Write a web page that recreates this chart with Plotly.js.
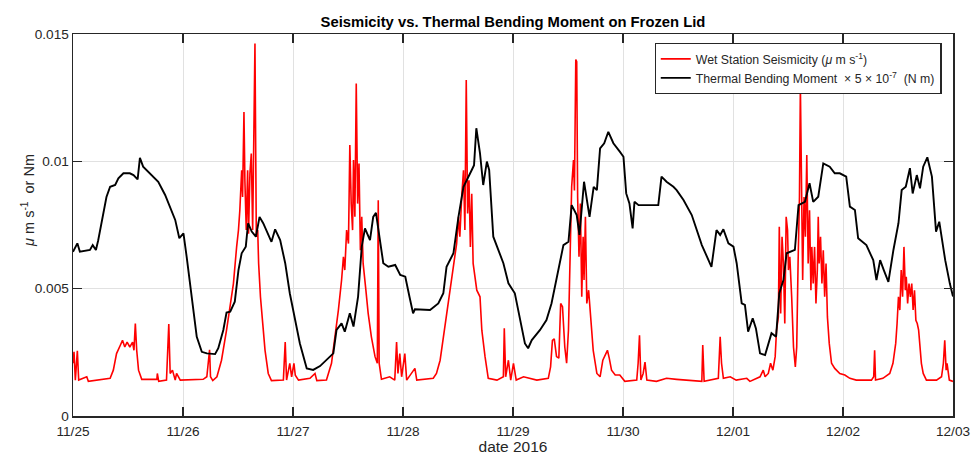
<!DOCTYPE html>
<html>
<head>
<meta charset="utf-8">
<script src="https://cdn.plot.ly/plotly-3.0.1.min.js"></script>
<style>html,body{margin:0;padding:0;background:#fff}#chart{width:971px;height:455px}</style>
</head>
<body>
<div id="chart"></div>
<script>
// hours after 2016-11-25 00:00 and values
const dayLabels = ['11/25','11/26','11/27','11/28','11/29','11/30','12/01','12/02','12/03'];

const momentHours = [0,0.95,1.5,3.7,4.3,5.0,5.5,6.3,7.3,8.1,9.2,9.9,11.0,12.4,13.2,14.1,14.6,15.3,16.8,18.6,20.1,21.2,22.3,23.2,24.1,24.8,25.9,27.0,28.1,29.2,31.0,31.7,32.8,33.5,34.3,35.3,36.1,36.8,37.7,38.2,39.0,39.9,40.7,41.5,43.3,44.1,45.2,46.3,47.3,48.4,49.5,51.0,52.4,53.9,55.4,56.8,57.5,58.6,59.3,60.4,61.2,62.2,63.0,63.7,64.8,65.5,66.1,67.0,67.7,68.8,70.3,71.4,72.5,73.4,74.2,74.6,77.9,79.7,80.8,81.5,83.0,84.1,85.2,87.0,87.5,88.0,88.8,89.5,90.3,90.8,91.7,93.9,95.0,96.4,97.5,98.6,99.3,100.1,101.9,103.3,104.4,105.5,107.0,108.1,108.8,109.9,110.5,111.5,112.7,113.6,114.3,115.0,115.9,116.8,117.9,119.3,120.1,120.7,121.4,122.1,122.5,123.4,127.7,128.4,129.5,131.0,131.7,133.2,135.0,137.2,138.7,139.3,140.4,141.2,141.9,143.0,144.1,144.8,145.9,146.6,147.3,148.3,149.0,149.9,151.0,151.7,152.4,153.4,154.1,155.0,155.7,157.5,158.3,159.7,160.7,161.5,162.6,163.7,165.1,166.2,167.3,168.7,169.5,170.6,171.3,173.1,174.6,175.3,176.1,176.9,177.9,179.0,180.1,180.8,181.7,182.6,183.2,184.1,184.8,185.5,186.4,187.4,188.3,189.0,190.3,191.3,192.0];
const momentValues = [0.00645,0.00678,0.00645,0.00652,0.00671,0.00652,0.0069,0.0077,0.0086,0.009,0.00907,0.00933,0.00953,0.00953,0.00946,0.00929,0.01014,0.00979,0.00953,0.0092,0.00868,0.00822,0.0077,0.00698,0.00717,0.00625,0.00469,0.00311,0.00252,0.00246,0.00243,0.00266,0.00338,0.00406,0.0041,0.00449,0.00573,0.00639,0.00665,0.00757,0.00724,0.00704,0.00782,0.00757,0.00684,0.00733,0.00691,0.006,0.00482,0.00377,0.00285,0.00187,0.00181,0.00196,0.0022,0.00246,0.00338,0.00364,0.00331,0.00403,0.00351,0.00469,0.00665,0.00737,0.00691,0.00782,0.00798,0.00691,0.006,0.00586,0.00593,0.00554,0.00547,0.00469,0.00403,0.00419,0.00416,0.00442,0.00482,0.00586,0.00639,0.00782,0.009,0.00966,0.00985,0.0113,0.01031,0.00907,0.00999,0.00966,0.00704,0.006,0.00521,0.00482,0.0039,0.00285,0.00266,0.00298,0.00338,0.00377,0.00442,0.00534,0.00671,0.00684,0.00828,0.00789,0.00711,0.0092,0.00782,0.009,0.00887,0.01051,0.01071,0.01116,0.01071,0.01038,0.01018,0.00874,0.00835,0.00737,0.00841,0.00828,0.00828,0.0094,0.0092,0.009,0.00887,0.00848,0.00789,0.00671,0.00606,0.00586,0.0073,0.00711,0.00733,0.00678,0.00665,0.006,0.00442,0.00436,0.00331,0.00384,0.00344,0.00246,0.00239,0.00285,0.00325,0.00311,0.00482,0.00534,0.00639,0.00652,0.00828,0.00841,0.00914,0.00841,0.00861,0.00992,0.00979,0.00953,0.00953,0.0094,0.00822,0.00809,0.00698,0.00671,0.00612,0.00534,0.00612,0.00573,0.00527,0.00652,0.00757,0.00887,0.009,0.00973,0.00874,0.00946,0.00894,0.00979,0.01016,0.0094,0.00724,0.00763,0.00612,0.00521,0.00469];

const seisHours = [0,0.22,0.51,0.95,1.24,3.0,3.35,5.9,8.1,8.8,9.5,10.3,10.8,11.3,11.8,12.4,13.0,13.3,13.6,13.9,14.3,15.0,18.3,18.4,18.7,20.4,20.9,21.2,21.7,22.3,22.6,23.4,28.4,29.2,29.8,30.0,30.5,31.4,32.4,33.5,34.3,35.0,35.7,36.1,36.4,36.8,37.0,37.3,37.5,37.8,38.1,38.3,38.6,38.9,39.2,39.4,39.7,40.0,40.3,40.5,40.9,41.4,41.9,42.6,43.3,45.9,46.3,46.6,47.3,47.7,48.2,48.5,49.2,51.7,52.8,53.2,55.3,56.4,57.2,57.9,58.6,59.0,59.3,59.7,60.1,60.4,60.7,61.0,61.2,61.5,61.8,62.1,62.4,62.7,63.0,63.3,63.9,64.4,65.1,65.9,66.4,66.6,66.8,67.3,69.1,70.2,70.6,70.9,71.3,71.7,72.4,72.8,74.6,75.0,78.6,79.3,80.1,80.8,81.5,82.2,83.0,83.7,84.1,84.4,84.8,85.2,85.5,85.8,86.1,86.4,86.7,87.0,87.3,87.7,88.1,88.8,89.2,89.9,90.6,92.5,93.9,94.1,94.4,95.0,95.5,96.1,96.7,98.3,101.2,103.7,104.2,104.6,105.0,105.5,106.0,106.4,106.8,107.3,107.7,108.1,108.4,108.8,109.2,109.4,109.7,109.9,110.1,110.4,110.7,111.0,111.3,111.5,111.8,112.1,112.5,113.0,113.5,114.3,115.0,115.6,116.1,116.6,117.0,117.5,118.3,119.3,120.4,123.0,123.3,123.6,123.9,124.4,124.8,125.2,127.3,129.5,131.7,134.6,137.2,137.4,137.7,140.8,141.2,141.5,141.9,143.4,144.7,147.0,147.7,149.9,150.6,151.0,151.7,152.2,152.7,153.2,153.5,153.9,154.1,154.4,154.7,155.0,155.3,155.6,155.9,156.1,156.4,156.8,157.2,157.6,157.9,158.2,158.5,158.7,159.0,159.2,159.5,159.8,160.1,160.4,160.7,161.0,161.2,161.5,161.8,162.1,162.4,162.6,162.8,163.1,163.4,163.7,164.0,164.3,164.6,165.0,165.5,166.2,167.3,168.4,169.5,170.9,174.2,174.7,174.9,175.1,176.7,178.2,178.9,179.5,179.8,180.1,180.4,180.7,181.0,181.3,181.6,181.8,182.1,182.4,182.7,183.0,183.3,183.6,183.9,184.2,184.5,184.8,185.1,185.5,186.2,188.4,189.5,189.9,190.2,190.5,190.7,191.2,192.0];
const seisValues = [0.00207,0.00252,0.00141,0.00256,0.00141,0.00154,0.00136,0.00144,0.00148,0.0018,0.00245,0.00277,0.00297,0.00271,0.0029,0.00271,0.0029,0.00258,0.00363,0.00258,0.0018,0.00144,0.00144,0.00167,0.00136,0.00141,0.00361,0.00167,0.0018,0.00141,0.00167,0.00141,0.00144,0.00154,0.0026,0.00154,0.00139,0.00154,0.00219,0.00337,0.00442,0.0052,0.00664,0.0073,0.00808,0.00965,0.0086,0.01194,0.00926,0.0073,0.00965,0.00716,0.00952,0.01031,0.0073,0.01018,0.01463,0.00704,0.0073,0.00599,0.00468,0.00363,0.00258,0.00167,0.00139,0.00141,0.0029,0.00141,0.00207,0.00154,0.00207,0.0016,0.00141,0.00148,0.00167,0.00139,0.00141,0.00207,0.00311,0.00416,0.00534,0.00625,0.00573,0.0073,0.00677,0.01064,0.00834,0.0073,0.01005,0.00782,0.01306,0.00834,0.00991,0.00651,0.00782,0.00599,0.00494,0.00403,0.00311,0.00233,0.00207,0.00847,0.00207,0.00144,0.00154,0.00141,0.0029,0.00167,0.00245,0.00154,0.00245,0.00141,0.00187,0.00141,0.00148,0.00167,0.00219,0.00311,0.00403,0.00494,0.00599,0.00677,0.00782,0.00704,0.0086,0.00965,0.0073,0.01319,0.00795,0.00926,0.00664,0.00873,0.00599,0.00547,0.00494,0.00468,0.00337,0.00233,0.00148,0.00141,0.00154,0.00344,0.00154,0.00219,0.00141,0.00207,0.00141,0.00154,0.00141,0.00148,0.00193,0.00297,0.00303,0.00233,0.00227,0.00442,0.00429,0.00271,0.00207,0.00337,0.00599,0.009,0.01005,0.00886,0.014,0.01391,0.0086,0.00625,0.00834,0.00468,0.00704,0.00534,0.00782,0.00442,0.00494,0.00363,0.00258,0.00167,0.00154,0.00219,0.00238,0.00258,0.00227,0.0018,0.00161,0.00161,0.00136,0.00141,0.00207,0.00317,0.00141,0.00167,0.00212,0.00141,0.00136,0.00148,0.00144,0.00141,0.00136,0.00279,0.00136,0.00148,0.00311,0.00207,0.00148,0.00154,0.00141,0.00148,0.00136,0.00154,0.0018,0.00154,0.00167,0.00207,0.0018,0.00233,0.00337,0.00389,0.00743,0.00403,0.00704,0.00599,0.00363,0.00782,0.0073,0.00573,0.00625,0.00468,0.00271,0.00193,0.00271,0.00599,0.0086,0.01295,0.0073,0.00534,0.0086,0.00704,0.01025,0.00599,0.00808,0.00494,0.00664,0.0052,0.00664,0.00442,0.00573,0.00782,0.00599,0.00704,0.0052,0.00651,0.00468,0.00599,0.00389,0.00285,0.00207,0.00187,0.00167,0.00161,0.00148,0.00141,0.00141,0.00154,0.00258,0.00141,0.00148,0.00167,0.00207,0.00285,0.00363,0.00468,0.00416,0.00573,0.00468,0.00664,0.00494,0.00547,0.00442,0.0052,0.00468,0.0052,0.00416,0.00494,0.00376,0.00363,0.00337,0.00271,0.00207,0.00167,0.00141,0.00141,0.00154,0.00207,0.00297,0.0018,0.00207,0.00141,0.00136];

const yTicks = [0, 0.005, 0.01, 0.015];
const yTickLabels = ['0', '0.005', '0.01', '0.015'];

const t0 = Date.UTC(2016, 10, 25);
const toMs = h => t0 + h * 3600000;
const dayTicks = dayLabels.map((_, i) => t0 + i * 86400000);

const txt = '#262626';
const font = 'Liberation Sans, Arial, Helvetica, sans-serif';

const traces = [
  {
    x: seisHours.map(toMs), y: seisValues, type: 'scatter', mode: 'lines',
    name: 'Wet Station Seismicity (<i>μ</i> m s<sup>-1</sup>)',
    line: {color: '#ff0000', width: 1.6}
  },
  {
    x: momentHours.map(toMs), y: momentValues, type: 'scatter', mode: 'lines',
    name: 'Thermal Bending Moment  × 5 × 10<sup>-7</sup>  (N m)',
    line: {color: '#000000', width: 1.9}
  }
];

const layout = {
  width: 971, height: 455,
  margin: {l: 73, r: 18, t: 34, b: 39},
  paper_bgcolor: '#ffffff', plot_bgcolor: '#ffffff',
  font: {family: font, color: txt, size: 13},
  showlegend: true,
  title: {
    text: '<b>Seismicity vs. Thermal Bending Moment on Frozen Lid</b>',
    font: {family: font, size: 14.8, color: '#000'},
    x: 0.5, xref: 'paper', xanchor: 'center', y: 0.951, yref: 'container', yanchor: 'middle'
  },
  xaxis: {
    type: 'date',
    range: [t0, t0 + 8 * 86400000],
    tickvals: dayTicks, ticktext: dayLabels,
    ticks: 'inside', ticklen: 9, tickwidth: 1.2, tickcolor: txt,
    showline: true, linecolor: txt, linewidth: 1.5, mirror: 'ticks',
    showgrid: true, gridcolor: '#e1e1e1', gridwidth: 1,
    zeroline: false, ticklabelstandoff: 2,
    tickfont: {size: 13.6, color: txt},
    title: {text: 'date 2016', font: {size: 15.5, color: txt}, standoff: 1}
  },
  yaxis: {
    range: [0, 0.015],
    tickvals: yTicks, ticktext: yTickLabels,
    ticks: 'inside', ticklen: 9, tickwidth: 1.2, tickcolor: txt,
    showline: true, linecolor: txt, linewidth: 1.5, mirror: 'ticks',
    showgrid: true, gridcolor: '#e1e1e1', gridwidth: 1,
    zeroline: false,
    tickfont: {size: 13.6, color: txt}
  },
  annotations: [{
    text: '<i>μ</i> m s<sup>-1</sup>  or Nm',
    textangle: -90, showarrow: false,
    xref: 'paper', x: 0, xanchor: 'center', xshift: -45,
    yref: 'paper', y: 0.563, yanchor: 'middle',
    font: {size: 14.5, color: txt}
  }],
  legend: {
    x: 0.987, xanchor: 'right', y: 0.976, yanchor: 'top',
    bgcolor: '#ffffff', bordercolor: txt, borderwidth: 1.2,
    font: {size: 12.3, color: txt},
    tracegroupgap: 0, itemwidth: 30
  }
};

Plotly.newPlot('chart', traces, layout, {displayModeBar: false, staticPlot: true});
</script>
</body>
</html>
